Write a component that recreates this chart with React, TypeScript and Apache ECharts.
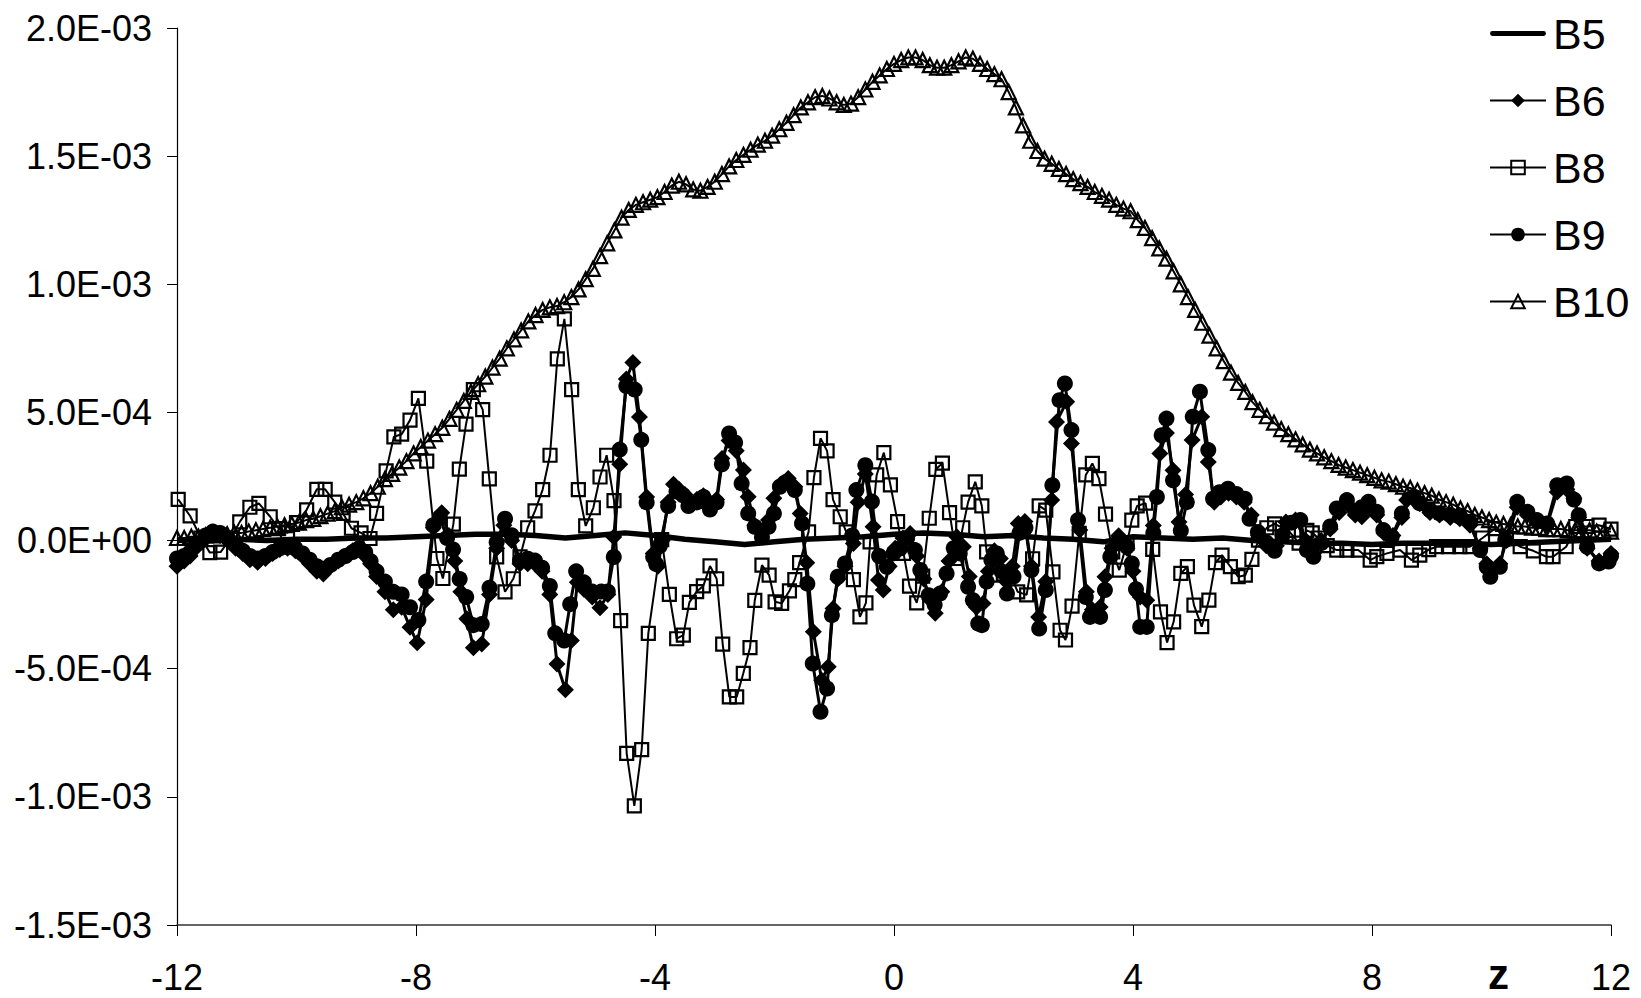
import React, { useEffect, useRef } from "react";
import * as echarts from "echarts";

// ---------- DATA (values in units of 1e-4) ----------
const xTicks = [-12, -8, -4, 0, 4, 8, 12];
const yTickLabels: Record<string, string> = {
  "20": "2.0E-03", "15": "1.5E-03", "10": "1.0E-03", "5": "5.0E-04",
  "0": "0.0E+00", "-5": "-5.0E-04", "-10": "-1.0E-03", "-15": "-1.5E-03",
};

const b5: [number, number][] = [
  [-12, 0.0], [-11.5, 0.05], [-11, 0.05], [-10.5, 0.0], [-10, 0.05], [-9.5, 0.05], [-9, 0.1], [-8.5, 0.1],
  [-8, 0.15], [-7.5, 0.2], [-7, 0.25], [-6.5, 0.25], [-6, 0.2], [-5.5, 0.1], [-5, 0.2], [-4.5, 0.3],
  [-4, 0.2], [-3.5, 0.05], [-3, -0.05], [-2.5, -0.15], [-2, -0.05], [-1.5, 0.05], [-1, 0.1], [-0.5, 0.15],
  [0, 0.25], [0.5, 0.3], [1, 0.25], [1.5, 0.15], [2, 0.2], [2.5, 0.1], [3, 0.05], [3.5, -0.05],
  [4, 0.15], [4.5, 0.1], [5, 0.05], [5.5, 0.1], [6, 0.0], [6.5, -0.05], [7, -0.1], [7.5, -0.1],
  [8, -0.15], [8.5, -0.1], [9, -0.1], [9.5, -0.1], [10, -0.15], [10.5, -0.1], [11, -0.05], [11.5, 0.0], [12, 0.05],
];

const b6: [number, number][] = [
  [-12.0, -1.0], [-11.88, -0.8], [-11.78, -0.6], [-11.65, -0.2], [-11.52, 0.1], [-11.4, 0.25], [-11.28, 0.2], [-11.15, 0.0],
  [-11.02, -0.3], [-10.9, -0.5], [-10.78, -0.75], [-10.65, -0.85], [-10.52, -0.7], [-10.4, -0.5], [-10.28, -0.35], [-10.15, -0.3],
  [-10.02, -0.4], [-9.9, -0.6], [-9.78, -0.9], [-9.66, -1.2], [-9.55, -1.3], [-9.43, -1.0], [-9.3, -0.8], [-9.18, -0.6],
  [-9.06, -0.4], [-8.95, -0.35], [-8.85, -0.6], [-8.76, -0.9], [-8.66, -1.4], [-8.52, -2.0], [-8.38, -2.7], [-8.24, -2.6],
  [-8.1, -3.38], [-7.98, -3.99], [-7.83, -2.3], [-7.71, 0.5], [-7.57, 1.09], [-7.45, 0.2], [-7.35, -0.8], [-7.25, -2.0],
  [-7.15, -3.05], [-7.04, -4.18], [-6.9, -4.04], [-6.77, -2.1], [-6.65, -0.3], [-6.53, 0.6], [-6.4, 0.0], [-6.26, -0.9],
  [-6.13, -0.9], [-6.01, -0.9], [-5.89, -1.2], [-5.76, -2.1], [-5.64, -4.82], [-5.5, -5.82], [-5.4, -3.9], [-5.3, -1.63],
  [-5.19, -1.9], [-5.05, -2.2], [-4.92, -2.62], [-4.79, -2.1], [-4.69, 0.14], [-4.59, 2.98], [-4.48, 6.3], [-4.37, 6.95],
  [-4.26, 4.82], [-4.14, 1.7], [-4.03, -0.5], [-3.95, -1.0], [-3.88, 0.0], [-3.78, 1.5], [-3.69, 2.2], [-3.6, 2.0],
  [-3.5, 1.8], [-3.4, 1.45], [-3.3, 1.6], [-3.19, 1.75], [-3.08, 1.3], [-2.97, 1.6], [-2.88, 3.2], [-2.76, 3.9],
  [-2.64, 3.5], [-2.52, 2.75], [-2.44, 1.71], [-2.33, 0.6], [-2.21, 0.3], [-2.1, 0.8], [-2.01, 1.65], [-1.9, 2.2],
  [-1.77, 2.42], [-1.66, 2.1], [-1.57, 1.06], [-1.46, -0.87], [-1.35, -3.56], [-1.21, -5.45], [-1.1, -4.92], [-1.02, -2.65],
  [-0.94, -1.5], [-0.82, -1.0], [-0.68, -0.11], [-0.6, 1.5], [-0.48, 2.6], [-0.35, 0.54], [-0.26, -1.54], [-0.18, -1.93],
  [-0.08, -1.0], [0.02, -0.3], [0.15, 0.1], [0.27, 0.28], [0.38, -0.6], [0.5, -1.5], [0.6, -2.3], [0.69, -2.84],
  [0.8, -2.0], [0.92, -0.8], [1.05, 0.15], [1.16, -0.24], [1.26, -1.4], [1.38, -2.6], [1.49, -2.46], [1.58, -1.2],
  [1.68, -0.4], [1.78, -0.7], [1.88, -1.6], [1.98, -1.0], [2.08, 0.67], [2.19, 0.74], [2.3, -1.0], [2.42, -2.98],
  [2.54, -1.6], [2.64, 1.58], [2.72, 4.63], [2.89, 5.42], [2.97, 3.79], [3.11, 0.41], [3.22, -2.0], [3.32, -2.7],
  [3.45, -2.59], [3.53, -1.41], [3.65, -0.3], [3.76, 0.19], [3.9, -0.3], [4.0, -1.2], [4.12, -2.2], [4.23, -2.33],
  [4.34, 0.59], [4.45, 3.4], [4.56, 4.2], [4.67, 2.74], [4.77, 0.72], [4.88, 1.8], [4.99, 3.92], [5.15, 4.83],
  [5.26, 3.07], [5.36, 1.5], [5.47, 1.7], [5.6, 1.85], [5.73, 1.7], [5.86, 1.5], [5.98, 1.0], [6.1, 0.2],
  [6.23, -0.2], [6.4, -0.2], [6.56, 0.72], [6.72, 0.8], [6.89, 0.0], [7.02, -0.5], [7.15, 0.0], [7.3, 0.45],
  [7.45, 1.1], [7.6, 1.4], [7.72, 1.0], [7.83, 0.93], [7.95, 1.3], [8.08, 1.0], [8.2, 0.3], [8.35, 0.2],
  [8.5, 0.9], [8.58, 1.58], [8.7, 1.6], [8.8, 1.45], [8.97, 1.1], [9.13, 1.0], [9.31, 0.9], [9.47, 0.85],
  [9.64, 0.6], [9.81, -0.3], [9.92, -0.9], [9.98, -1.2], [10.14, -0.9], [10.25, 0.0], [10.43, 1.3], [10.6, 1.0],
  [10.76, 0.7], [10.93, 0.6], [11.1, 1.9], [11.26, 2.0], [11.38, 1.64], [11.46, 0.9], [11.6, -0.3], [11.8, -0.8],
  [11.96, -0.75], [12.0, -0.5],
];

const b8: [number, number][] = [
  [-11.98, 1.61], [-11.78, 0.96], [-11.6, 0.1], [-11.45, -0.47], [-11.27, -0.45], [-11.1, 0.1], [-10.95, 0.73], [-10.78, 1.3],
  [-10.63, 1.45], [-10.44, 0.93], [-10.3, 0.47], [-10.15, 0.3], [-10.0, 0.7], [-9.83, 1.2], [-9.66, 2.0], [-9.52, 2.0],
  [-9.36, 1.5], [-9.22, 1.06], [-9.08, 0.48], [-8.92, 0.3], [-8.77, 0.08], [-8.66, 1.06], [-8.5, 2.72], [-8.37, 4.05],
  [-8.24, 4.15], [-8.1, 4.7], [-7.96, 5.55], [-7.82, 3.1], [-7.65, -0.7], [-7.55, -1.48], [-7.375, 0.64], [-7.275, 2.79],
  [-7.163, 4.54], [-7.04, 5.89], [-6.884, 5.11], [-6.773, 2.41], [-6.65, -0.64], [-6.51, -2.0], [-6.371, -1.49], [-6.259, -0.64],
  [-6.131, 0.5], [-6.008, 1.16], [-5.88, 1.99], [-5.757, 3.33], [-5.635, 7.09], [-5.517, 8.65], [-5.395, 5.89], [-5.283, 1.99],
  [-5.16, 0.57], [-5.032, 1.28], [-4.92, 2.48], [-4.809, 3.33], [-4.686, 1.56], [-4.575, -3.12], [-4.474, -8.3], [-4.346, -10.35],
  [-4.223, -8.16], [-4.112, -3.62], [-3.888, 0.04], [-3.76, -2.1], [-3.637, -3.83], [-3.526, -3.69], [-3.425, -2.41], [-3.303, -1.99],
  [-3.191, -1.77], [-3.079, -0.99], [-2.968, -1.49], [-2.867, -4.04], [-2.756, -6.1], [-2.633, -6.1], [-2.522, -5.18], [-2.41, -4.18],
  [-2.33, -2.33], [-2.21, -0.96], [-2.09, -1.35], [-1.99, -2.39], [-1.88, -2.45], [-1.75, -1.96], [-1.66, -1.52], [-1.58, -0.86],
  [-1.43, 0.34], [-1.34, 2.46], [-1.23, 3.99], [-1.12, 3.5], [-1.02, 1.6], [-0.9, 0.93], [-0.8, 0.34], [-0.68, -1.52],
  [-0.57, -2.98], [-0.47, -2.43], [-0.4, -0.05], [-0.29, 2.56], [-0.17, 3.43], [-0.06, 2.17], [0.06, 0.74], [0.16, -0.5],
  [0.26, -1.78], [0.38, -2.43], [0.48, -1.39], [0.59, 0.87], [0.7, 2.78], [0.81, 3.02], [0.93, 1.09], [1.05, -0.7],
  [1.15, 0.5], [1.24, 1.5], [1.36, 2.29], [1.47, 1.35], [1.55, -0.44], [1.72, -1.35], [1.83, -1.3], [1.94, -1.28],
  [2.07, -2.0], [2.22, -2.12], [2.32, -0.71], [2.43, 1.35], [2.54, 1.19], [2.66, -1.22], [2.78, -3.5], [2.87, -3.88],
  [2.98, -2.56], [3.1, 0.28], [3.21, 2.56], [3.32, 3.01], [3.43, 2.42], [3.54, 1.03], [3.66, -0.44], [3.77, -1.15],
  [3.9, -0.1], [3.98, 0.8], [4.07, 1.35], [4.21, 1.46], [4.33, -0.34], [4.46, -2.78], [4.57, -3.98], [4.68, -3.17],
  [4.8, -1.28], [4.91, -1.02], [5.02, -2.52], [5.15, -3.36], [5.27, -2.32], [5.38, -0.86], [5.49, -0.57], [5.63, -1.02],
  [5.76, -1.41], [5.88, -1.35], [5.99, -0.73], [6.1, 0.02], [6.24, 0.5], [6.37, 0.65], [6.5, 0.5], [6.6, 0.4],
  [6.78, -0.1], [6.91, 0.4], [7.0, 0.3], [7.1, 0.1], [7.25, -0.2], [7.41, -0.37], [7.58, -0.37], [7.77, -0.37],
  [7.97, -0.76], [8.08, -0.63], [8.25, -0.5], [8.47, -0.37], [8.66, -0.76], [8.8, -0.57], [8.95, -0.35], [9.08, -0.24],
  [9.28, -0.24], [9.47, -0.24], [9.64, -0.24], [9.85, 0.1], [10.06, 0.47], [10.25, 0.1], [10.48, -0.24], [10.7, -0.4],
  [10.92, -0.63], [11.03, -0.63], [11.25, -0.24], [11.41, 0.55], [11.6, 0.55], [11.8, 0.6], [12.0, 0.45],
];

const b9: [number, number][] = [
  [-12.0, -0.7], [-11.88, -0.6], [-11.78, -0.45], [-11.65, -0.1], [-11.52, 0.2], [-11.4, 0.35], [-11.28, 0.3], [-11.15, 0.1],
  [-11.02, -0.15], [-10.9, -0.4], [-10.78, -0.6], [-10.65, -0.7], [-10.52, -0.6], [-10.4, -0.45], [-10.28, -0.3], [-10.15, -0.25],
  [-10.02, -0.3], [-9.9, -0.5], [-9.78, -0.75], [-9.66, -1.0], [-9.55, -1.1], [-9.43, -0.95], [-9.3, -0.75], [-9.18, -0.6],
  [-9.06, -0.45], [-8.95, -0.3], [-8.85, -0.45], [-8.76, -0.8], [-8.66, -1.2], [-8.52, -1.6], [-8.38, -2.0], [-8.24, -2.1],
  [-8.1, -2.6], [-7.96, -3.1], [-7.83, -1.6], [-7.71, 0.6], [-7.6, 0.9], [-7.48, 0.1], [-7.38, -0.35], [-7.27, -1.5],
  [-7.16, -2.2], [-7.04, -3.3], [-6.9, -3.26], [-6.77, -1.84], [-6.65, -0.07], [-6.51, 0.85], [-6.4, 0.21], [-6.26, -0.78],
  [-6.13, -0.71], [-6.01, -0.78], [-5.89, -1.06], [-5.76, -1.77], [-5.67, -3.62], [-5.52, -3.9], [-5.42, -2.48], [-5.32, -1.2],
  [-5.19, -1.63], [-5.05, -1.99], [-4.9, -1.99], [-4.79, -1.99], [-4.69, -0.64], [-4.59, 3.55], [-4.48, 6.03], [-4.34, 5.89],
  [-4.23, 3.93], [-4.14, 1.49], [-4.03, -0.64], [-3.98, -0.92], [-3.92, -0.21], [-3.78, 1.35], [-3.64, 1.91], [-3.53, 1.77],
  [-3.44, 1.35], [-3.3, 1.49], [-3.19, 1.7], [-3.08, 1.21], [-2.97, 1.49], [-2.88, 2.98], [-2.76, 4.18], [-2.66, 3.83],
  [-2.55, 2.23], [-2.44, 1.06], [-2.33, 0.54], [-2.21, 0.13], [-2.1, 0.54], [-2.01, 1.06], [-1.91, 2.1], [-1.8, 2.3],
  [-1.66, 1.97], [-1.54, 0.67], [-1.45, -1.68], [-1.36, -4.8], [-1.23, -6.68], [-1.12, -5.77], [-1.04, -2.91], [-0.94, -1.41],
  [-0.82, -0.89], [-0.7, 0.2], [-0.63, 1.97], [-0.48, 2.94], [-0.37, 1.52], [-0.25, -0.6], [-0.12, -1.02], [-0.01, -0.5],
  [0.1, -0.31], [0.22, 0.1], [0.35, -0.37], [0.44, -1.15], [0.58, -2.13], [0.68, -2.5], [0.77, -2.07], [0.88, -1.28],
  [1.0, -0.3], [1.1, -0.5], [1.24, -1.8], [1.32, -2.33], [1.41, -3.24], [1.47, -3.3], [1.55, -1.6], [1.63, -0.76],
  [1.72, -0.5], [1.8, -1.2], [1.89, -2.07], [2.0, -1.4], [2.1, 0.3], [2.2, 0.5], [2.3, -1.15], [2.43, -3.43],
  [2.54, -1.93], [2.65, 2.16], [2.77, 5.48], [2.86, 6.13], [2.97, 4.31], [3.08, 0.8], [3.21, -2.2], [3.28, -2.98],
  [3.36, -2.85], [3.45, -2.98], [3.53, -1.93], [3.62, -0.63], [3.76, 0.0], [3.9, -0.24], [3.98, -0.89], [4.05, -1.9],
  [4.12, -3.37], [4.23, -3.37], [4.34, 0.3], [4.4, 1.7], [4.48, 4.11], [4.56, 4.76], [4.67, 2.35], [4.8, 0.39],
  [4.9, 1.5], [5.0, 4.83], [5.12, 5.81], [5.26, 3.53], [5.34, 1.63], [5.45, 1.89], [5.59, 2.02], [5.73, 1.82],
  [5.87, 1.63], [5.95, 0.85], [6.09, 0.33], [6.23, -0.07], [6.37, -0.4], [6.5, 0.2], [6.65, 0.7], [6.8, 0.8],
  [6.91, -0.37], [7.02, -0.63], [7.15, -0.1], [7.3, 0.55], [7.41, 1.25], [7.58, 1.58], [7.72, 1.12], [7.83, 1.3],
  [7.94, 1.51], [8.08, 1.12], [8.19, 0.41], [8.33, 0.15], [8.5, 1.06], [8.69, 1.71], [8.8, 1.45], [8.97, 1.19],
  [9.13, 1.06], [9.31, 1.0], [9.47, 0.93], [9.64, 0.73], [9.81, -0.37], [9.92, -1.02], [9.98, -1.41], [10.14, -1.02],
  [10.23, 0.02], [10.43, 1.51], [10.6, 1.12], [10.76, 0.8], [10.93, 0.67], [11.1, 2.16], [11.26, 2.23], [11.38, 1.6],
  [11.46, 0.99], [11.6, -0.24], [11.8, -0.89], [11.96, -0.82], [12.0, -0.6],
];

// B10 sampled on a regular z grid from -12 to 12, step 0.12
const b10Start = -12;
const b10Step = 0.12;
const b10: number[] = [
  0.1, 0.1, 0.15, 0.15, 0.2, 0.2, 0.25, 0.25, 0.3, 0.3,
  0.35, 0.4, 0.45, 0.5, 0.55, 0.6, 0.65, 0.7, 0.8, 0.85,
  0.95, 1.05, 1.15, 1.3, 1.4, 1.5, 1.65, 1.85, 2.1, 2.4,
  2.6, 2.85, 3.1, 3.4, 3.65, 3.9, 4.15, 4.4, 4.75, 5.1,
  5.45, 5.8, 6.1, 6.4, 6.75, 7.1, 7.5, 7.85, 8.2, 8.55,
  8.8, 9.0, 9.1, 9.15, 9.3, 9.5, 9.8, 10.2, 10.6, 11.1,
  11.6, 12.1, 12.6, 12.9, 13.1, 13.2, 13.3, 13.4, 13.6, 13.85,
  14.0, 13.9, 13.7, 13.65, 13.8, 14.0, 14.3, 14.6, 14.85, 15.05,
  15.25, 15.45, 15.6, 15.8, 16.05, 16.3, 16.6, 16.9, 17.1, 17.3,
  17.35, 17.25, 17.1, 17.0, 17.05, 17.3, 17.6, 17.9, 18.15, 18.4,
  18.6, 18.75, 18.85, 18.85, 18.75, 18.55, 18.45, 18.45, 18.55, 18.7,
  18.85, 18.8, 18.6, 18.4, 18.2, 18.0, 17.5, 16.9, 16.2, 15.6,
  15.2, 14.9, 14.7, 14.5, 14.3, 14.1, 13.95, 13.8, 13.6, 13.45,
  13.3, 13.1, 12.95, 12.85, 12.5, 12.2, 11.8, 11.4, 11.0, 10.5,
  10.0, 9.5, 9.0, 8.5, 8.0, 7.5, 7.0, 6.55, 6.15, 5.8,
  5.4, 5.1, 4.85, 4.6, 4.35, 4.15, 3.95, 3.75, 3.55, 3.4,
  3.25, 3.1, 2.95, 2.85, 2.75, 2.65, 2.55, 2.45, 2.35, 2.3,
  2.2, 2.1, 2.05, 1.95, 1.85, 1.75, 1.6, 1.5, 1.4, 1.25,
  1.15, 1.0, 0.9, 0.8, 0.7, 0.65, 0.6, 0.55, 0.55, 0.5,
  0.5, 0.45, 0.45, 0.45, 0.4, 0.4, 0.4, 0.4, 0.35, 0.35,
  0.35,
];

const FONT = "'Liberation Sans', Arial, sans-serif";

export default function App() {
  const ref = useRef<HTMLDivElement>(null);
  useEffect(() => {
    if (!ref.current) return;
    const chart = echarts.init(ref.current, null, { renderer: "svg" });
    const b10Pairs = b10.map((v, i) => [Math.round((b10Start + b10Step * i) * 1000) / 1000, v]);
    const hollow = { color: "rgba(255,255,255,0)", borderColor: "#000", borderWidth: 2.2 };
    chart.setOption({
      animation: false,
      backgroundColor: "#fff",
      grid: { left: 177, right: 30, top: 28, bottom: 73, containLabel: false },
      xAxis: {
        type: "value", min: -12, max: 12, interval: 4,
        axisLine: { show: true, onZero: false, lineStyle: { color: "#333", width: 1.5 } },
        axisTick: { show: true, length: 11, lineStyle: { color: "#000", width: 1 } },
        axisLabel: { color: "#000", fontSize: 36, fontFamily: FONT, margin: 34,
          formatter: (v: number) => (xTicks.includes(v) ? String(v) : "") },
        splitLine: { show: false },
      },
      yAxis: {
        type: "value", min: -15, max: 20, interval: 5,
        axisLine: { show: true, onZero: false, lineStyle: { color: "#000", width: 1.2 } },
        axisTick: { show: true, length: 10, lineStyle: { color: "#000", width: 1 } },
        axisLabel: { color: "#000", fontSize: 36, fontFamily: FONT, margin: 25,
          formatter: (v: number) => yTickLabels[String(Math.round(v))] ?? "" },
        splitLine: { show: false },
      },
      legend: {
        orient: "vertical", left: 1484, top: 7, itemGap: 24, itemWidth: 56, itemHeight: 17,
        textStyle: { fontSize: 43, fontFamily: FONT, color: "#000", padding: [0, 0, 0, 2] },
        data: [
          { name: "B5", icon: "path://M2,0 L54,0 A2.5,2.5 0 0 1 54,5 L2,5 A2.5,2.5 0 0 1 2,0 Z" },
          "B6", "B8", "B9", "B10",
        ],
      },
      graphic: [
        { type: "text", left: 1488, top: 953,
          style: { text: "z", fontSize: 42, fontWeight: "bold", fontFamily: FONT, fill: "#000" } },
      ],
      series: [
        { name: "B5", type: "line", data: b5, symbol: "none", lineStyle: { color: "#000", width: 5.5 },
          itemStyle: { color: "#000" }, z: 1 },
        { name: "B6", type: "line", data: b6, symbol: "diamond", symbolSize: 17,
          lineStyle: { color: "#000", width: 3 }, itemStyle: { color: "#000" }, z: 2 },
        { name: "B8", type: "line", data: b8, symbol: "rect", symbolSize: 13,
          lineStyle: { color: "#000", width: 2 }, itemStyle: hollow, z: 3 },
        { name: "B9", type: "line", data: b9, symbol: "circle", symbolSize: 16,
          lineStyle: { color: "#000", width: 3 }, itemStyle: { color: "#000" }, z: 4 },
        { name: "B10", type: "line", data: b10Pairs, symbol: "triangle", symbolSize: 14,
          lineStyle: { color: "#000", width: 2 }, itemStyle: hollow, z: 5 },
      ],
    });
    return () => chart.dispose();
  }, []);
  return <div ref={ref} style={{ position: "fixed", left: 0, top: 0, width: 1641, height: 998, background: "#fff" }} />;
}
